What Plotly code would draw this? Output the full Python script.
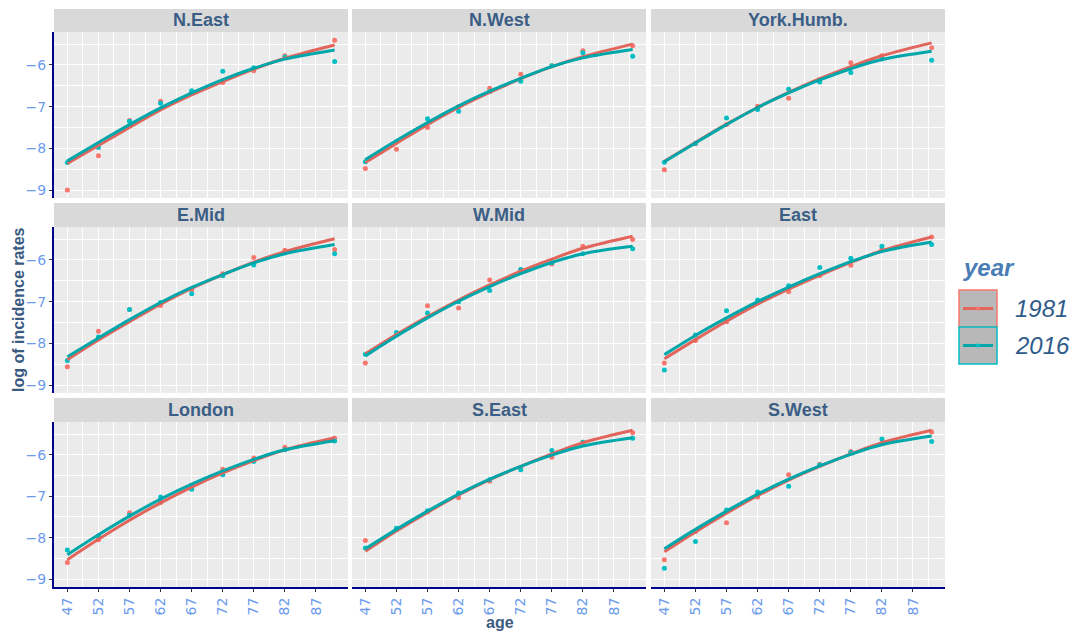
import plotly.graph_objects as go

# ---- data -------------------------------------------------------------
ages = [47, 52, 57, 62, 67, 72, 77, 82, 90]
x_tick_vals = [47, 52, 57, 62, 67, 72, 77, 82, 87]
y_tick_vals = [-9, -8, -7, -6]
regions = ["N.East", "N.West", "York.Humb.", "E.Mid", "W.Mid", "East",
           "London", "S.East", "S.West"]
years = ["1981", "2016"]

# observed log incidence rates
obs_1981_n_east = [-9.00, -8.18, -7.33, -6.87, -6.66, -6.42, -6.14, -5.78, -5.41]
obs_2016_n_east = [-8.34, -7.98, -7.35, -6.92, -6.62, -6.15, -6.07, -5.81, -5.92]
obs_1981_n_west = [-8.48, -8.02, -7.50, -7.00, -6.56, -6.22, -6.02, -5.66, -5.54]
obs_2016_n_west = [-8.32, -7.84, -7.29, -7.11, -6.64, -6.39, -6.02, -5.71, -5.79]
obs_1981_york = [-8.51, -7.89, -7.43, -6.99, -6.80, -6.35, -5.95, -5.78, -5.59]
obs_2016_york = [-8.33, -7.88, -7.27, -7.07, -6.58, -6.41, -6.18, -5.86, -5.89]
obs_1981_e_mid = [-8.56, -7.71, -7.19, -7.09, -6.72, -6.33, -5.94, -5.77, -5.75]
obs_2016_e_mid = [-8.41, -7.85, -7.19, -7.02, -6.81, -6.38, -6.12, -5.83, -5.85]
obs_1981_w_mid = [-8.47, -7.77, -7.10, -7.15, -6.48, -6.23, -6.10, -5.67, -5.51]
obs_2016_w_mid = [-8.26, -7.74, -7.27, -7.00, -6.73, -6.23, -6.07, -5.85, -5.73]
obs_1981_east = [-8.47, -7.93, -7.48, -7.02, -6.76, -6.37, -6.13, -5.75, -5.45]
obs_2016_east = [-8.64, -7.80, -7.22, -6.96, -6.62, -6.18, -5.96, -5.67, -5.63]
obs_1981_london = [-8.60, -8.05, -7.40, -7.15, -6.80, -6.35, -6.08, -5.82, -5.60]
obs_2016_london = [-8.30, -7.96, -7.46, -7.02, -6.83, -6.48, -6.16, -5.88, -5.67]
obs_1981_s_east = [-8.07, -7.80, -7.38, -7.04, -6.64, -6.32, -6.06, -5.70, -5.47]
obs_2016_s_east = [-8.25, -7.77, -7.35, -6.92, -6.60, -6.36, -5.90, -5.70, -5.60]
obs_1981_s_west = [-8.53, -7.85, -7.64, -7.02, -6.48, -6.23, -5.92, -5.72, -5.45]
obs_2016_s_west = [-8.74, -8.09, -7.33, -6.90, -6.76, -6.25, -5.94, -5.62, -5.68]

# smoothed (fitted) log incidence rates
fit_1981_n_east = [-8.36, -7.93, -7.50, -7.08, -6.72, -6.40, -6.10, -5.84, -5.52]
fit_2016_n_east = [-8.30, -7.86, -7.43, -7.03, -6.67, -6.35, -6.08, -5.86, -5.64]
fit_1981_n_west = [-8.34, -7.88, -7.43, -7.02, -6.66, -6.33, -6.04, -5.80, -5.50]
fit_2016_n_west = [-8.27, -7.81, -7.38, -6.98, -6.63, -6.32, -6.04, -5.83, -5.63]
fit_1981_york = [-8.31, -7.86, -7.42, -7.02, -6.66, -6.33, -6.04, -5.78, -5.47]
fit_2016_york = [-8.32, -7.87, -7.43, -7.02, -6.67, -6.36, -6.09, -5.87, -5.67]
fit_1981_e_mid = [-8.39, -7.92, -7.48, -7.06, -6.68, -6.35, -6.05, -5.80, -5.49]
fit_2016_e_mid = [-8.32, -7.87, -7.43, -7.02, -6.66, -6.35, -6.07, -5.85, -5.63]
fit_1981_w_mid = [-8.25, -7.79, -7.36, -6.96, -6.60, -6.27, -5.98, -5.72, -5.43]
fit_2016_w_mid = [-8.30, -7.83, -7.39, -6.99, -6.64, -6.33, -6.06, -5.85, -5.67]
fit_1981_east = [-8.37, -7.91, -7.47, -7.06, -6.70, -6.37, -6.06, -5.78, -5.45]
fit_2016_east = [-8.27, -7.81, -7.39, -7.00, -6.65, -6.33, -6.04, -5.80, -5.57]
fit_1981_london = [-8.53, -8.04, -7.58, -7.16, -6.78, -6.44, -6.14, -5.88, -5.59]
fit_2016_london = [-8.41, -7.93, -7.48, -7.07, -6.71, -6.39, -6.11, -5.88, -5.66]
fit_1981_s_east = [-8.33, -7.84, -7.39, -6.97, -6.60, -6.28, -5.98, -5.71, -5.41]
fit_2016_s_east = [-8.27, -7.80, -7.36, -6.95, -6.59, -6.28, -6.01, -5.79, -5.59]
fit_1981_s_west = [-8.34, -7.86, -7.41, -6.99, -6.61, -6.28, -5.98, -5.71, -5.41]
fit_2016_s_west = [-8.27, -7.80, -7.36, -6.95, -6.59, -6.27, -5.99, -5.76, -5.55]

obs = {
    "1981": [obs_1981_n_east, obs_1981_n_west, obs_1981_york, obs_1981_e_mid,
             obs_1981_w_mid, obs_1981_east, obs_1981_london, obs_1981_s_east,
             obs_1981_s_west],
    "2016": [obs_2016_n_east, obs_2016_n_west, obs_2016_york, obs_2016_e_mid,
             obs_2016_w_mid, obs_2016_east, obs_2016_london, obs_2016_s_east,
             obs_2016_s_west],
}
fit = {
    "1981": [fit_1981_n_east, fit_1981_n_west, fit_1981_york, fit_1981_e_mid,
             fit_1981_w_mid, fit_1981_east, fit_1981_london, fit_1981_s_east,
             fit_1981_s_west],
    "2016": [fit_2016_n_east, fit_2016_n_west, fit_2016_york, fit_2016_e_mid,
             fit_2016_w_mid, fit_2016_east, fit_2016_london, fit_2016_s_east,
             fit_2016_s_west],
}

# ---- styling ------------------------------------------------------------
W, H = 1077, 633
point_colors = {"1981": "#F8766D", "2016": "#00BFC4"}
line_colors = {"1981": "#E2655C", "2016": "#00A7AA"}
panel_bg = "#EBEBEB"
strip_bg = "#D9D9D9"
strip_text = "#3B5E86"
title_color = "#3A5A80"
tick_color = "#6C9BEB"
axis_navy = "#00008B"
FONT = "Liberation Sans, Arial, sans-serif"

col_px = [(54, 348), (352, 646), (651, 945)]
row_px = [(32, 198), (227, 393), (422, 587)]
strip_px = [(9, 32), (203, 227), (398, 422)]
x_range = [44.85, 92.15]
y_range = [-9.19, -5.21]


def px_x(v):
    return v / W


def px_y(v):
    return 1 - v / H


fig = go.Figure()
layout = {}
shapes = []
annotations = []

for k, region in enumerate(regions):
    r, c = divmod(k, 3)
    suffix = "" if k == 0 else str(k + 1)
    xa, ya = "x" + suffix, "y" + suffix

    for yr in years:
        fig.add_trace(go.Scatter(
            x=ages, y=obs[yr][k], mode="markers", xaxis=xa, yaxis=ya,
            marker=dict(color=point_colors[yr], size=5, symbol="circle"),
            showlegend=False, name=yr))
    for yr in years:
        fig.add_trace(go.Scatter(
            x=ages, y=fit[yr][k], mode="lines", xaxis=xa, yaxis=ya,
            line=dict(color=line_colors[yr], width=3, shape="spline",
                      smoothing=1.0),
            showlegend=False, name=yr))

    left_col = c == 0
    bottom_row = r == 2
    layout["xaxis" + suffix] = dict(
        domain=[px_x(col_px[c][0]), px_x(col_px[c][1])],
        anchor=ya, range=x_range, tickmode="array", tickvals=x_tick_vals,
        showticklabels=bottom_row, tickangle=-90,
        tickfont=dict(family="DejaVu Sans", size=14, color=tick_color),
        ticks="outside" if bottom_row else "", ticklen=3,
        tickcolor="#333333", tickwidth=1,
        showgrid=True, gridcolor="white", gridwidth=1.1,
        minor=dict(dtick=2.5, tick0=47, showgrid=True, gridcolor="white",
                   gridwidth=0.55),
        showline=bottom_row, linecolor=axis_navy, linewidth=2,
        zeroline=False)
    layout["yaxis" + suffix] = dict(
        domain=[px_y(row_px[r][1]), px_y(row_px[r][0])],
        anchor=xa, range=y_range, tickmode="array", tickvals=y_tick_vals,
        showticklabels=left_col,
        tickfont=dict(family="DejaVu Sans", size=14, color=tick_color),
        ticks="outside" if left_col else "", ticklen=3,
        tickcolor="#333333", tickwidth=1,
        showgrid=True, gridcolor="white", gridwidth=1.1,
        minor=dict(dtick=0.5, tick0=-9, showgrid=True, gridcolor="white",
                   gridwidth=0.55),
        showline=left_col, linecolor=axis_navy, linewidth=2,
        zeroline=False)

    # panel background
    shapes.append(dict(
        type="rect", xref="paper", yref="paper", layer="below",
        x0=px_x(col_px[c][0]), x1=px_x(col_px[c][1]),
        y0=px_y(row_px[r][1]), y1=px_y(row_px[r][0]),
        fillcolor=panel_bg, line=dict(width=0)))
    # facet strip
    shapes.append(dict(
        type="rect", xref="paper", yref="paper", layer="below",
        x0=px_x(col_px[c][0]), x1=px_x(col_px[c][1]),
        y0=px_y(strip_px[r][1]), y1=px_y(strip_px[r][0]),
        fillcolor=strip_bg, line=dict(width=0)))
    annotations.append(dict(
        text="<b>%s</b>" % region, xref="paper", yref="paper",
        x=px_x((col_px[c][0] + col_px[c][1]) / 2),
        y=px_y((strip_px[r][0] + strip_px[r][1]) / 2),
        xanchor="center", yanchor="middle", showarrow=False,
        font=dict(family=FONT, size=18, color=strip_text)))

# axis titles
annotations.append(dict(
    text="<b>age</b>", xref="paper", yref="paper",
    x=px_x((col_px[0][0] + col_px[2][1]) / 2), y=px_y(622),
    xanchor="center", yanchor="middle", showarrow=False,
    font=dict(family=FONT, size=16, color=title_color)))
annotations.append(dict(
    text="<b>log of incidence rates</b>", xref="paper", yref="paper",
    x=px_x(18), y=px_y(310), textangle=-90,
    xanchor="center", yanchor="middle", showarrow=False,
    font=dict(family=FONT, size=16, color=title_color)))

# legend drawn as keyed boxes
annotations.append(dict(
    text="<b><i>year</i></b>", xref="paper", yref="paper",
    x=px_x(961), y=px_y(267), xanchor="left", yanchor="middle",
    showarrow=False, font=dict(family=FONT, size=24, color="#4A7DB5")))
box_x0, box_x1 = 959, 997
for i, yr in enumerate(years):
    top = 290 + i * 37
    bot = top + 37
    mid = (top + bot) / 2
    shapes.append(dict(
        type="rect", xref="paper", yref="paper",
        x0=px_x(box_x0), x1=px_x(box_x1), y0=px_y(bot), y1=px_y(top),
        fillcolor="#B8B8B8", line=dict(color=point_colors[yr], width=1.5)))
    shapes.append(dict(
        type="line", xref="paper", yref="paper",
        x0=px_x(963), x1=px_x(993), y0=px_y(mid), y1=px_y(mid),
        line=dict(color=line_colors[yr], width=3)))
    shapes.append(dict(
        type="circle", xref="paper", yref="paper",
        x0=px_x(976), x1=px_x(980), y0=px_y(mid + 2), y1=px_y(mid - 2),
        fillcolor=point_colors[yr], line=dict(width=0)))
    annotations.append(dict(
        text="<i>%s</i>" % yr, xref="paper", yref="paper",
        x=px_x(1013), y=px_y(mid), xanchor="left", yanchor="middle",
        showarrow=False, font=dict(family=FONT, size=24, color="#2F5C8A")))

fig.update_layout(
    width=W, height=H, margin=dict(l=0, r=0, t=0, b=0),
    paper_bgcolor="white", plot_bgcolor=panel_bg,
    showlegend=False, shapes=shapes, annotations=annotations,
    font=dict(family=FONT), **layout)

fig.write_html("out.html")
